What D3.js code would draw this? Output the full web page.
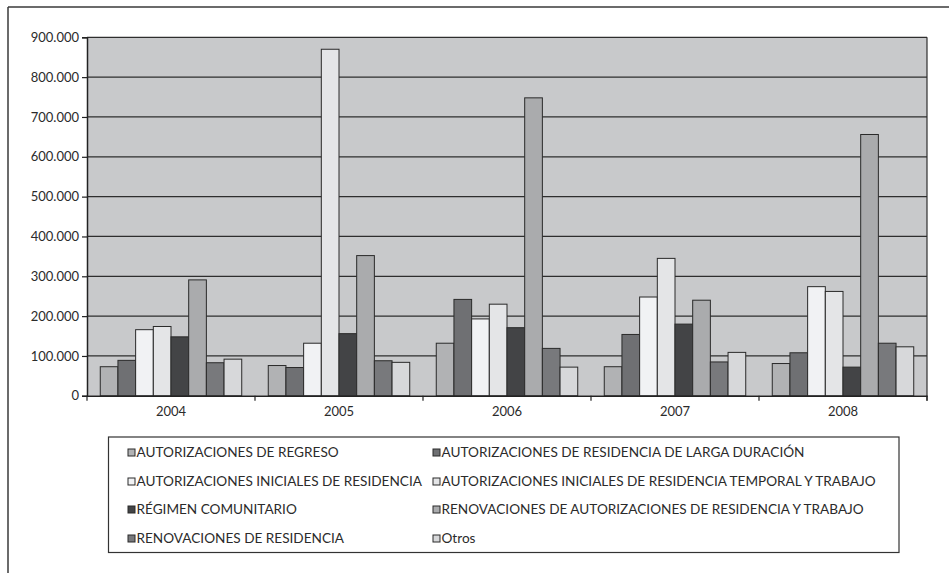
<!DOCTYPE html>
<html>
<head>
<meta charset="utf-8">
<script src="https://cdn.jsdelivr.net/npm/d3@7/dist/d3.min.js"></script>
<style>
  html, body { margin: 0; padding: 0; background: #fff; }
  svg { display: block; }
  text { font-family: Lato, "Open Sans", sans-serif; fill: #2b2b2b; }
</style>
</head>
<body>
<svg id="chart" width="949" height="573"></svg>
<script>
// Years on the category axis
const years = ["2004", "2005", "2006", "2007", "2008"];

// Series names (legend order)
const seriesNames = [
  "AUTORIZACIONES DE REGRESO",
  "AUTORIZACIONES DE RESIDENCIA DE LARGA DURACIÓN",
  "AUTORIZACIONES INICIALES DE RESIDENCIA",
  "AUTORIZACIONES INICIALES DE RESIDENCIA TEMPORAL Y TRABAJO",
  "RÉGIMEN COMUNITARIO",
  "RENOVACIONES DE AUTORIZACIONES DE RESIDENCIA Y TRABAJO",
  "RENOVACIONES DE RESIDENCIA",
  "Otros"
];

// Values per series, one per year
const regreso        = [73000, 76000, 132000, 73000, 81000];
const largaDuracion  = [89000, 71000, 242000, 154000, 108000];
const iniciales      = [166000, 132000, 193000, 248000, 274000];
const inicialesTemp  = [174000, 870000, 230000, 345000, 262000];
const comunitario    = [148000, 156000, 171000, 180000, 72000];
const renovAutoriz   = [291000, 352000, 748000, 240000, 656000];
const renovResid     = [83000, 88000, 119000, 85000, 132000];
const otros          = [92000, 84000, 72000, 109000, 123000];

// Y axis ticks
const yTicks = [0, 100000, 200000, 300000, 400000, 500000, 600000, 700000, 800000, 900000];

const seriesValues = [regreso, largaDuracion, iniciales, inicialesTemp, comunitario, renovAutoriz, renovResid, otros];
const fills = ["#b1b2b4", "#6f7073", "#f1f2f4", "#e4e5e7", "#434446", "#aaabad", "#78797c", "#d7d8da"];

const svg = d3.select("#chart");

// Outer frame (top and left edges)
svg.append("line").attr("x1", 8).attr("y1", 7).attr("x2", 949).attr("y2", 7)
  .attr("stroke", "#3a3a3a").attr("stroke-width", 1.5);
svg.append("line").attr("x1", 8).attr("y1", 7).attr("x2", 8).attr("y2", 573)
  .attr("stroke", "#3a3a3a").attr("stroke-width", 1.5);

const plot = { left: 87, right: 927, top: 37.3, bottom: 395.8 };

const x0 = d3.scaleBand().domain(years).range([plot.left, plot.right]).padding(0);
const x1 = d3.scaleBand().domain(d3.range(seriesNames.length))
  .range([0, x0.bandwidth()]).paddingInner(0).paddingOuter(0.75);
const y = d3.scaleLinear().domain([0, 900000]).range([plot.bottom, plot.top]);

// Plot background
svg.append("rect")
  .attr("x", plot.left).attr("y", plot.top)
  .attr("width", plot.right - plot.left).attr("height", plot.bottom - plot.top)
  .attr("fill", "#c8c9cb");

// Horizontal gridlines
svg.append("g").selectAll("line").data(yTicks.slice(1)).join("line")
  .attr("x1", plot.left).attr("x2", plot.right)
  .attr("y1", d => y(d)).attr("y2", d => y(d))
  .attr("stroke", "#2e2e2e").attr("stroke-width", 1.2);

// Bars
const groups = svg.append("g").selectAll("g").data(years).join("g")
  .attr("transform", d => `translate(${x0(d)},0)`);
groups.selectAll("rect")
  .data((yr, i) => seriesValues.map((vals, s) => ({ s, v: vals[i] })))
  .join("rect")
  .attr("x", d => x1(d.s))
  .attr("y", d => y(d.v))
  .attr("width", x1.bandwidth())
  .attr("height", d => y(0) - y(d.v))
  .attr("fill", d => fills[d.s])
  .attr("stroke", "#2a2a2a").attr("stroke-width", 1);

// Right border of plot
svg.append("line").attr("x1", plot.right).attr("x2", plot.right)
  .attr("y1", plot.top).attr("y2", plot.bottom + 5)
  .attr("stroke", "#2e2e2e").attr("stroke-width", 1.2);

// Y axis
const yAxis = d3.axisLeft(y).tickValues(yTicks).tickSize(5).tickPadding(3)
  .tickFormat(d => d3.format(",")(d).replace(/,/g, "."));
const gy = svg.append("g").attr("transform", `translate(${plot.left},0)`).call(yAxis);
gy.select(".domain").attr("stroke", "#222").attr("stroke-width", 1.5);
gy.selectAll(".tick line").attr("stroke", "#222").attr("stroke-width", 1.2);
gy.selectAll(".tick text").attr("font-size", 13).attr("fill", "#2b2b2b")
  .style("font-family", "Lato, sans-serif");

// X axis with ticks at category boundaries
const xAxis = d3.axisBottom(x0).tickSize(0).tickPadding(11);
const gx = svg.append("g").attr("transform", `translate(0,${plot.bottom})`).call(xAxis);
gx.select(".domain").attr("stroke", "#222").attr("stroke-width", 1.5);
gx.selectAll(".tick text").attr("font-size", 13).attr("fill", "#2b2b2b")
  .style("font-family", "Lato, sans-serif");
const boundaries = years.map(d => x0(d)).concat([plot.right]);
gx.append("g").selectAll("line").data(boundaries).join("line")
  .attr("x1", d => d).attr("x2", d => d).attr("y1", 0).attr("y2", 5)
  .attr("stroke", "#222").attr("stroke-width", 1.2);

// Legend
const legend = { x: 108.5, y: 437, w: 790.5, h: 115.5 };
svg.append("rect").attr("x", legend.x).attr("y", legend.y)
  .attr("width", legend.w).attr("height", legend.h)
  .attr("fill", "#fff").attr("stroke", "#333").attr("stroke-width", 1.2);
const colX = [128, 433];
const rowY = [452.5, 481.5, 509.5, 538.5];
const items = svg.append("g").selectAll("g").data(seriesNames).join("g")
  .attr("transform", (d, i) => `translate(${colX[i % 2]},${rowY[Math.floor(i / 2)]})`);
items.append("rect")
  .attr("x", 0).attr("y", -3.5).attr("width", 7).attr("height", 7)
  .attr("fill", (d, i) => fills[i]).attr("stroke", "#2a2a2a").attr("stroke-width", 1);
items.append("text")
  .attr("x", 8.5).attr("y", 0).attr("dy", "0.35em")
  .attr("font-size", 13.6)
  .text(d => d);
</script>
</body>
</html>
